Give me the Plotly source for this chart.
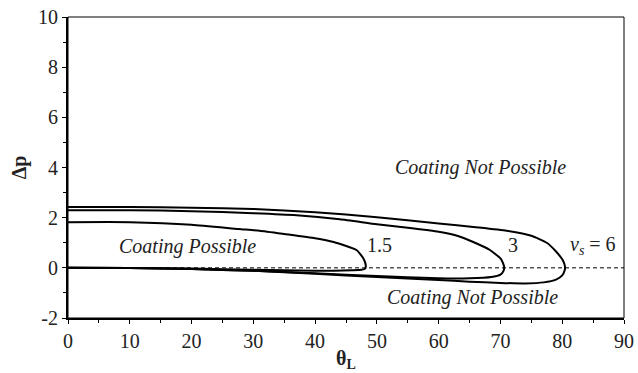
import plotly.graph_objects as go

# vs = 6 loop (upper branch to nose, then lower branch back)
theta_6 = [0, 10, 20, 30, 40, 50, 60, 66, 71, 75, 77.5, 79, 80.1, 80.45, 80.4,
           80.0, 79, 77, 74, 70, 65, 60, 50, 40, 30, 20, 10, 0]
dp_6 = [2.43, 2.43, 2.40, 2.35, 2.22, 2.02, 1.77, 1.62, 1.48, 1.28, 1.0, 0.65, 0.3, 0.05, -0.1,
        -0.3, -0.47, -0.58, -0.62, -0.6, -0.55, -0.49, -0.37, -0.24, -0.12, -0.05, -0.01, 0.0]

# vs = 3 loop
theta_3 = [0, 10, 20, 30, 37, 44, 50, 55, 60, 63, 65.5, 68.3, 70.1, 70.6, 70.5,
           70.0, 68.5, 65, 60, 50, 40, 30, 20, 10, 0]
dp_3 = [2.30, 2.30, 2.26, 2.18, 2.10, 1.94, 1.74, 1.60, 1.44, 1.28, 1.04, 0.71, 0.35, 0.05, -0.12,
        -0.27, -0.37, -0.42, -0.42, -0.33, -0.22, -0.12, -0.05, -0.01, 0.0]

# vs = 1.5 loop
theta_15 = [0, 10, 20, 27.6, 31, 35, 40, 43, 46.7, 47.8, 48.2, 48.1,
            47.5, 46, 43, 40, 30, 20, 10, 0]
dp_15 = [1.82, 1.82, 1.72, 1.55, 1.48, 1.35, 1.18, 1.03, 0.71, 0.38, 0.1, -0.03,
         -0.08, -0.1, -0.12, -0.12, -0.08, -0.03, -0.01, 0.0]

ref_x = [0, 90]
ref_y = [0, 0]

x_ticks = [0, 10, 20, 30, 40, 50, 60, 70, 80, 90]
y_ticks = [-2, 0, 2, 4, 6, 8, 10]

FONT = "Liberation Serif"
TXT = "#222"

fig = go.Figure()
fig.add_trace(go.Scatter(x=ref_x, y=ref_y, mode="lines",
                         line=dict(color="black", width=1, dash="4px,3px"), hoverinfo="skip"))
for tx, ty in [(theta_15, dp_15), (theta_3, dp_3), (theta_6, dp_6)]:
    fig.add_trace(go.Scatter(x=tx, y=ty, mode="lines",
                             line=dict(color="black", width=2, shape="spline", smoothing=0.5)))

annots = [
    dict(x=66.8, y=4.0, text="<i>Coating Not Possible</i>"),
    dict(x=19.3, y=0.87, text="<i>Coating Possible</i>"),
    dict(x=65.5, y=-1.2, text="<i>Coating Not Possible</i>"),
    dict(x=48.0, y=0.9, text="1.5", xanchor="left"),
    dict(x=70.9, y=0.9, text="3", xanchor="left"),
    dict(x=80.9, y=0.9, text="<i>v<sub>s</sub></i> = 6", xanchor="left"),
]
for a in annots:
    fig.add_annotation(x=a["x"], y=a["y"], text=a["text"], showarrow=False,
                       xanchor=a.get("xanchor", "center"), yanchor="middle",
                       font=dict(family=FONT, size=20, color=TXT))

axis_common = dict(showgrid=False, zeroline=False, showline=True, linecolor="black",
                   linewidth=2, mirror=False, ticks="outside", ticklen=4, tickwidth=1,
                   tickcolor="black", tickfont=dict(family=FONT, size=20, color=TXT),
                   automargin=False)

fig.update_xaxes(range=[0, 90], tickvals=x_ticks, ticktext=[str(v) for v in x_ticks],
                 minor=dict(dtick=5, tick0=0, ticks="outside", ticklen=3, tickcolor="black"),
                 title=dict(text="<b>θ<sub>L</sub></b>", font=dict(family=FONT, size=20, color=TXT),
                            standoff=0),
                 **axis_common)
fig.update_yaxes(range=[-2, 10], tickvals=y_ticks, ticktext=[str(v) for v in y_ticks],
                 minor=dict(dtick=1, tick0=0, ticks="outside", ticklen=3, tickcolor="black"),
                 title=dict(text="<b>Δp</b>", font=dict(family=FONT, size=20, color=TXT),
                            standoff=6),
                 **axis_common)

fig.add_shape(type="rect", xref="paper", yref="paper", x0=0, y0=0, x1=1, y1=1,
              line=dict(color="black", width=1), layer="above")

fig.update_layout(width=638, height=373, showlegend=False,
                  margin=dict(l=68, r=14, t=17, b=55),
                  plot_bgcolor="white", paper_bgcolor="white")

fig.write_html("out.html")
